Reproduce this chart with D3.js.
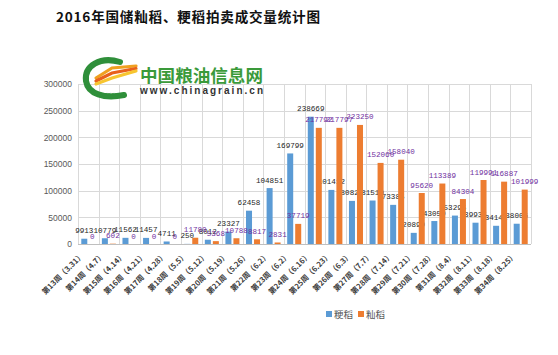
<!DOCTYPE html>
<html><head><meta charset="utf-8">
<script src="https://cdn.jsdelivr.net/npm/d3@7"></script>
<style>
html,body{margin:0;padding:0;background:#fff;}
svg{display:block;}
</style></head>
<body>
<svg id="chart" width="558" height="355"></svg>
<script>
const categories = ["第13周（3.31）","第14周（4.7）","第15周（4.14）","第16周（4.21）","第17周（4.28）","第18周（5.5）","第19周（5.12）","第20周（5.19）","第21周（5.26）","第22周（6.2）","第23周（6.2）","第24周（6.16）","第25周（6.23）","第26周（6.3）","第27周（7.7）","第28周（7.14）","第29周（7.21）","第30周（7.28）","第31周（8.4）","第32周（8.11）","第33周（8.18）","第34周（8.25）"];
const japonica = [9913,10779,11562,11457,4711,250,8012,23327,62458,104851,169799,238669,101412,80826,81510,73385,20899,43059,53295,39935,34142,38006];
const indica = [0,602,0,0,0,11780,5368,10788,8817,2831,37719,217792,217797,223250,152060,158040,95620,113389,84304,119991,116887,101999];
const seriesNames = ["粳稻","籼稻"];
const yTicks = [0,50000,100000,150000,200000,250000,300000];
const title = "2016年国储籼稻、粳稻拍卖成交量统计图";

const colors = ["#5B9BD5","#ED7D31"];
const labelColors = ["#262626","#7030A0"];
const svg = d3.select("#chart");
const pL = 78, pR = 531, pT = 84, pB = 244;

svg.append("text").attr("x",56).attr("y",22)
  .attr("font-family","'Noto Sans CJK SC',sans-serif").attr("font-weight","bold")
  .attr("font-size","13.6px").attr("fill","#111")
  .attr("textLength",264).attr("lengthAdjust","spacing").text(title);

const x = d3.scaleBand().domain(categories).range([pL,pR]).padding(0);
const xs = d3.scaleBand().domain([0,1]).range([0,x.bandwidth()]).paddingInner(0.25).paddingOuter(0.41);
const y = d3.scaleLinear().domain([0,300000]).range([pB,pT]);

// grid
const g = svg.append("g");
g.selectAll("line.h").data(yTicks).join("line")
  .attr("x1",pL).attr("x2",pR).attr("y1",d=>Math.round(y(d))+0.5).attr("y2",d=>Math.round(y(d))+0.5)
  .attr("stroke",d=>d===0?"#bfbfbf":"#d9d9d9").attr("stroke-width",1);
const bounds = categories.map(c=>x(c)).concat([pR]);
g.selectAll("line.v").data(bounds).join("line")
  .attr("x1",d=>Math.round(d)+0.5).attr("x2",d=>Math.round(d)+0.5).attr("y1",pT).attr("y2",pB)
  .attr("stroke","#d9d9d9").attr("stroke-width",1);

// y axis labels
const yAxis = d3.axisLeft(y).tickValues(yTicks).tickSize(0).tickPadding(6).tickFormat(d3.format("d"));
const ya = svg.append("g").attr("transform",`translate(${pL},0)`).call(yAxis);
ya.select(".domain").remove();
ya.selectAll("text").attr("font-family","'Liberation Sans',Arial,sans-serif").attr("font-size","8.5px").attr("fill","#595959");

// logo
const logo = svg.append("g");
logo.append("path").attr("d","M120,62 C100,56 84,66 86,81 C88,94 104,99 124,95")
  .attr("fill","none").attr("stroke","#2f8f3a").attr("stroke-width",6).attr("stroke-linecap","round");
[["#f0a020",0],["#e8601c",5],["#f7c530",10]].forEach(([c,o])=>{
  logo.append("path").attr("d",`M96,${78+o*0.6} L112,${68+o} L136,${66+o*0.5}`)
    .attr("fill","none").attr("stroke",c).attr("stroke-width",3.2).attr("stroke-linecap","round");
});
logo.append("text").attr("x",104).attr("y",96).attr("font-family","sans-serif").attr("font-size","6px")
  .attr("font-weight","bold").attr("fill","#2f8f3a").text("<<<<");
logo.append("text").attr("x",140).attr("y",82).attr("font-family","'Noto Sans CJK SC',sans-serif")
  .attr("font-weight","bold").attr("font-size","17px").attr("fill","#3a9a3a")
  .attr("textLength",123).attr("lengthAdjust","spacingAndGlyphs").text("中国粮油信息网");
logo.append("text").attr("x",140).attr("y",94).attr("font-family","'Liberation Sans',Arial,sans-serif")
  .attr("font-weight","bold").attr("font-size","10px").attr("fill","#333")
  .attr("textLength",123).attr("lengthAdjust","spacing").text("www.chinagrain.cn");

// bars
const series = [japonica, indica];
series.forEach((vals,si)=>{
  const sg = svg.append("g");
  sg.selectAll("rect").data(vals).join("rect")
    .attr("x",(d,i)=>x(categories[i])+xs(si))
    .attr("width",xs.bandwidth())
    .attr("y",d=>y(d)).attr("height",d=>y(0)-y(d))
    .attr("fill",colors[si]);
  sg.selectAll("text").data(vals).join("text")
    .attr("x",(d,i)=>x(categories[i])+xs(si)+xs.bandwidth()/2)
    .attr("y",d=>y(d)-5.5)
    .attr("text-anchor","middle")
    .attr("font-family","'Liberation Mono','DejaVu Sans Mono',monospace")
    .attr("font-size","7.6px").attr("fill",labelColors[si]).text(d=>d);
});

// x labels
const xl = svg.append("g");
xl.selectAll("text").data(categories).join("text")
  .attr("transform",d=>`translate(${x(d)+x.bandwidth()/2-4},${pB+12}) rotate(-45)`)
  .attr("text-anchor","end")
  .attr("font-family","'Noto Sans CJK SC',sans-serif").attr("font-size","7.6px").attr("font-weight","bold")
  .attr("fill","#404040").text(d=>d);

// legend
const leg = svg.append("g");
const lx = [326,358];
seriesNames.forEach((n,i)=>{
  leg.append("rect").attr("x",lx[i]).attr("y",311).attr("width",6).attr("height",6).attr("fill",colors[i]);
  leg.append("text").attr("x",lx[i]+8).attr("y",318).attr("font-family","'Noto Sans CJK SC',sans-serif")
    .attr("font-size","9.5px").attr("fill","#595959").text(n);
});
</script>
</body></html>
